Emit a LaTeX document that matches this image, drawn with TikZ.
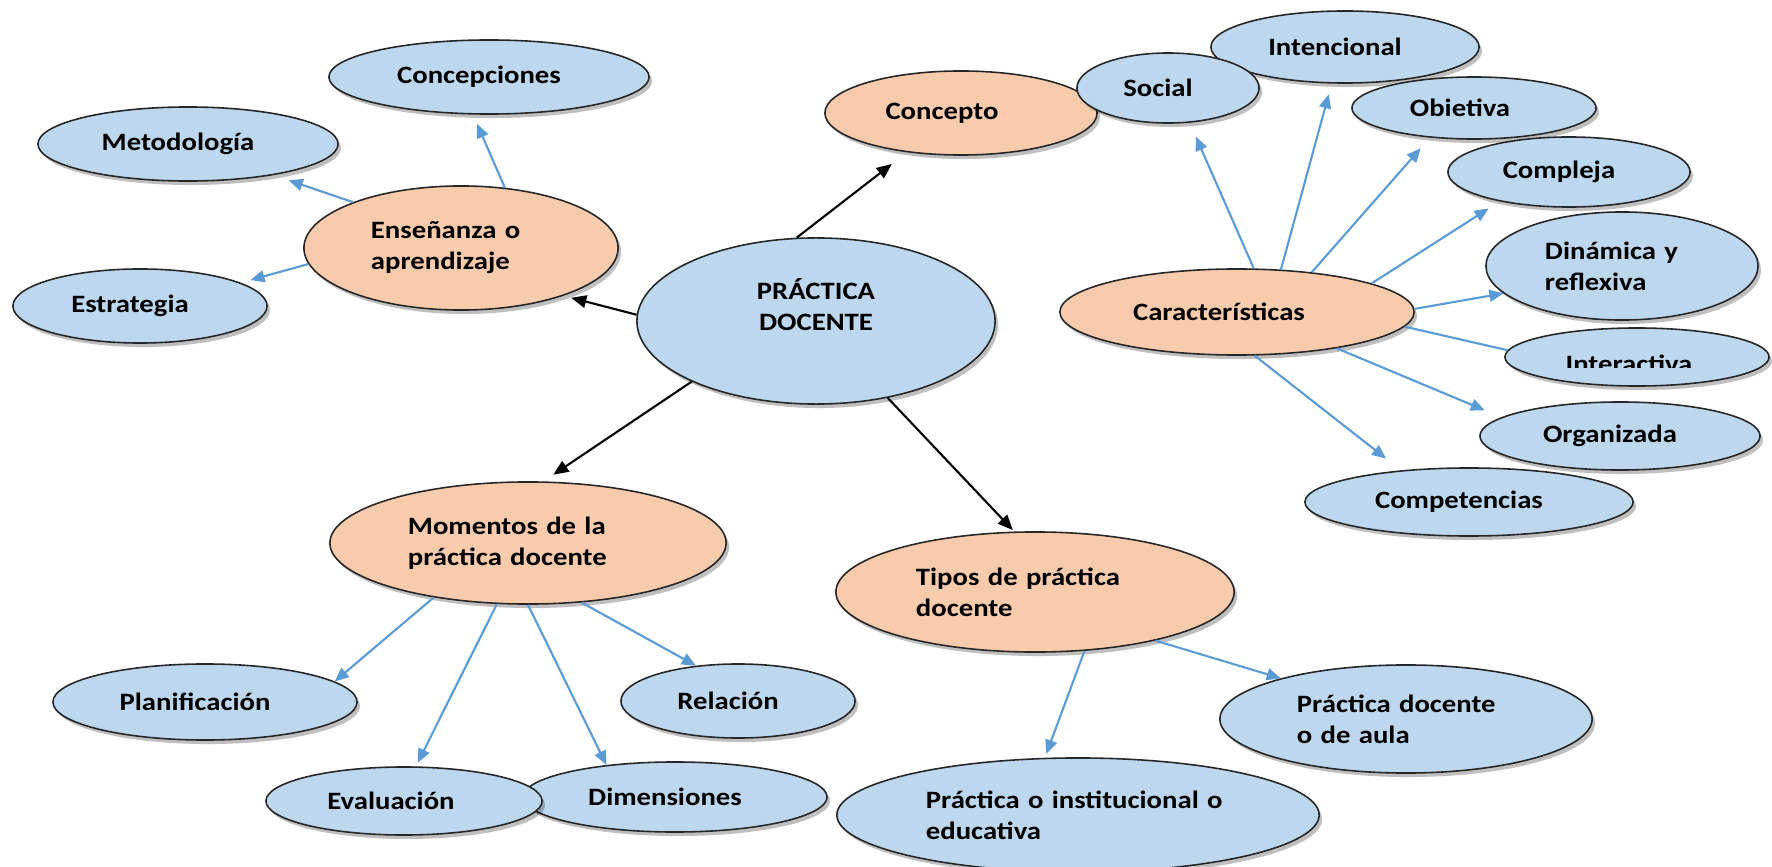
\documentclass[tikz,border=0pt]{standalone}
\usepackage{fontspec}
\setmainfont{Carlito}[FakeStretch=1.15]
\usetikzlibrary{arrows.meta,shapes.geometric,shadows}
\definecolor{bubbleblue}{RGB}{189,215,238}
\definecolor{bubbleorange}{RGB}{248,203,173}
\definecolor{arrowblue}{RGB}{91,155,213}

\begin{document}
\begin{tikzpicture}[x=0.01cm, y=-0.01cm,
  bubble/.style={ellipse, draw=black!85, line width=0.45pt, inner sep=0pt, font=\fontsize{7.1}{8.8}\selectfont\bfseries, drop shadow={shadow xshift=0.03cm, shadow yshift=-0.04cm, fill=black, opacity=0.25}},
  blue node/.style={bubble, fill=bubbleblue},
  orange node/.style={bubble, fill=bubbleorange},
  left text/.style={execute at end node={\hspace*{#1}}}, left text/.default=0.2cm,
  black arrow/.style={-{Triangle[length=4.3pt,width=3.6pt]}, line width=0.6pt, black},
  blue arrow/.style={-{Triangle[length=4pt,width=3.4pt]}, line width=0.6pt, arrowblue}]
\useasboundingbox (0,0) rectangle (1772,867);
\begin{scope}
\node[blue node, left text, minimum width=3.20cm, minimum height=0.74cm] (concep) at (489,77) {Concepciones};
\node[blue node, left text, minimum width=3.00cm, minimum height=0.74cm] (metod) at (188,144) {Metodología};
\node[blue node, left text, minimum width=2.54cm, minimum height=0.74cm] (estrat) at (140,306) {Estrategia};
\node[orange node, minimum width=3.14cm, minimum height=1.24cm, text width=1.8cm, align=left] (ens) at (461,248) {Enseñanza o\\aprendizaje};
\node[blue node, minimum width=3.58cm, minimum height=1.66cm, align=center, text depth=0.33cm] (pd) at (816,321) {PRÁCTICA\\DOCENTE};
\node[orange node, left text=0.38cm, minimum width=2.72cm, minimum height=0.84cm] (cpt) at (961,113) {Concepto};
\node[blue node, left text, minimum width=2.68cm, minimum height=0.72cm] (inten) at (1345,47) {Intencional};
\node[blue node, left text, minimum width=1.82cm, minimum height=0.70cm] (soc) at (1168,88) {Social};
\node[blue node, left text=0.28cm, minimum width=2.44cm, minimum height=0.62cm] (obj) at (1474,108) {Obietiva};
\node[blue node, left text, minimum width=2.42cm, minimum height=0.70cm] (compl) at (1569,172) {Compleja};
\node[blue node, minimum width=2.72cm, minimum height=1.08cm, text width=1.54cm, align=left] (dinam) at (1622,266) {Dinámica y\\reflexiva};
\node[orange node, left text=0.36cm, minimum width=3.54cm, minimum height=0.86cm] (car) at (1237,312) {Características};
\node[blue node, minimum width=2.64cm, minimum height=0.58cm] (inter) at (1637,357) {};
\node[blue node, left text, minimum width=2.80cm, minimum height=0.68cm] (organ) at (1620,436) {Organizada};
\node[blue node, left text, minimum width=3.28cm, minimum height=0.68cm] (compet) at (1469,502) {Competencias};
\node[orange node, minimum width=3.96cm, minimum height=1.22cm, text width=2.4cm, align=left] (mom) at (528,543) {Momentos de la\\práctica docente};
\node[blue node, left text, minimum width=3.04cm, minimum height=0.76cm] (plan) at (205,702) {Planificación};
\node[blue node, left text, minimum width=2.34cm, minimum height=0.74cm] (rel) at (738,701) {Relación};
\node[blue node, left text, minimum width=3.04cm, minimum height=0.70cm] (dim) at (675,797) {Dimensiones};
\node[blue node, left text=0.26cm, minimum width=2.76cm, minimum height=0.68cm] (eval) at (404,801) {Evaluación};
\node[orange node, minimum width=3.98cm, minimum height=1.20cm, text width=2.38cm, align=left] (tipos) at (1035,592) {Tipos de práctica\\docente};
\node[blue node, minimum width=3.72cm, minimum height=1.08cm, text width=2.18cm, align=left] (aula) at (1406,719) {Práctica docente\\o de aula};
\node[blue node, minimum width=4.82cm, minimum height=1.14cm, text width=3.04cm, align=left] (inst) at (1078,815) {Práctica o institucional o\\educativa};
\end{scope}
% text of the cut-off bubble
\begin{scope}
\clip ([xshift=-1.4cm]inter.north) rectangle ([xshift=1.4cm,yshift=-0.10cm]inter.center);
\node[font=\fontsize{7.1}{8.8}\selectfont\bfseries, anchor=base] (interlbl) at ([xshift=-0.08cm,yshift=-0.15cm]inter.center) {Interactiva};
\end{scope}
\begin{scope}
\path[black arrow] (pd.103) edge[shorten >=0.19cm] (cpt.216);
\path[black arrow] (pd.178) edge[shorten >=0.08cm] (ens.-25);
\path[black arrow] (pd.206) edge[shorten >=0.12cm] (mom.76);
\path[black arrow] (pd.-47) edge[shorten >=0.02cm] (tipos.109);
\path[blue arrow] (ens.54) edge[shorten >=0.10cm] (concep.247);
\path[blue arrow] (ens.157) edge[shorten >=0.16cm] (metod.-20);
\path[blue arrow] (ens.186) edge[shorten >=0.10cm] (estrat.13);
\path[blue arrow] (car.69) edge[shorten >=0.15cm] (soc.-58);
\path[blue arrow] (car.44) edge[shorten >=0.11cm] (inten.250);
\path[blue arrow] (car.28) edge[shorten >=0.14cm] (obj.214);
\path[blue arrow] (car.12) edge[shorten >=0.13cm] (compl.203);
\path[blue arrow] (car.1) edge (dinam.193);
\path[blue arrow, -] (car.-5) edge (inter.177);
\path[blue arrow] (car.-20) edge[shorten >=0.18cm] (organ.171);
\path[blue arrow] (car.-68) edge[shorten >=0.19cm] (compet.155);
\path[blue arrow] (mom.210) edge (plan.9);
\path[blue arrow] (mom.243) edge[shorten >=0.04cm] (eval.71);
\path[blue arrow] (mom.270) edge (dim.155);
\path[blue arrow] (mom.-48) edge (rel.140);
\path[blue arrow] (tipos.-50) edge[shorten >=0.04cm] (inst.120);
\path[blue arrow] (tipos.-22) edge (aula.162);
\end{scope}
\end{tikzpicture}
\end{document}
